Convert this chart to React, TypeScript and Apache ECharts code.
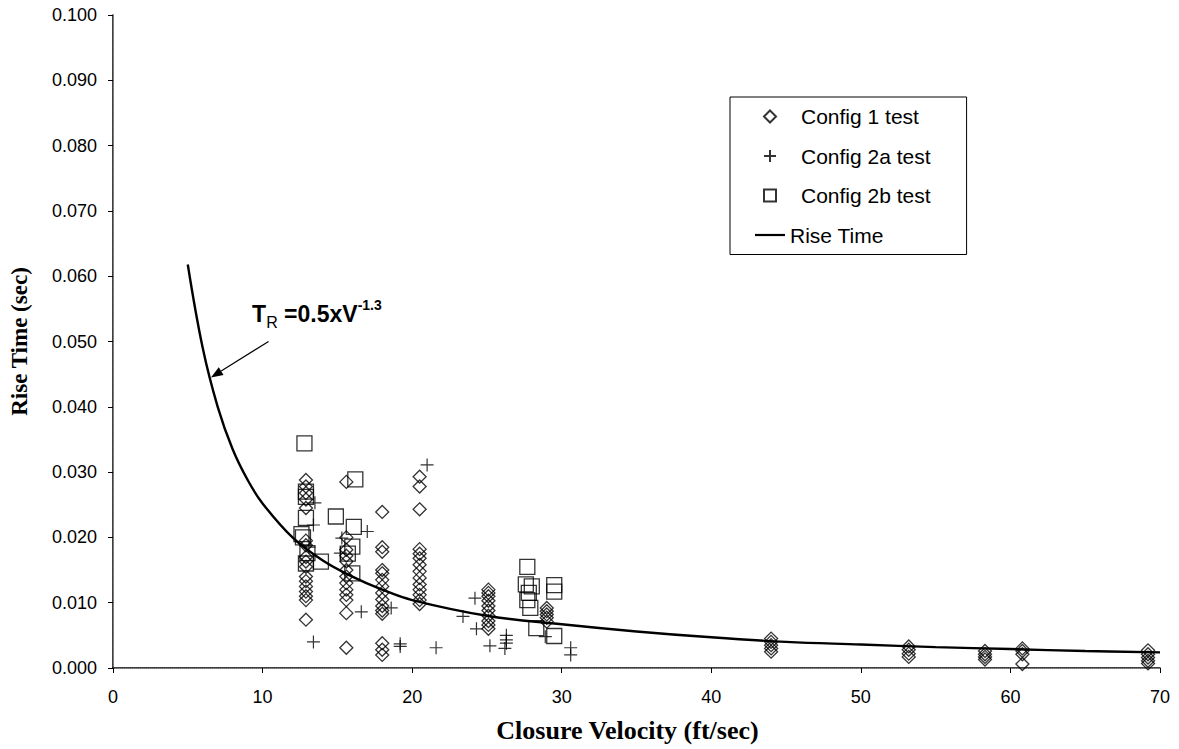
import React, { useEffect, useRef } from "react";
import * as echarts from "echarts";

const xTicks = [0, 10, 20, 30, 40, 50, 60, 70];

// Config 1 test (diamonds): [velocity, rise time]
const config1: number[][] = [
  [12.9, 0.0288], [12.9, 0.0278], [12.9, 0.0268], [12.9, 0.0258], [12.9, 0.0245],
  [12.9, 0.0195], [12.9, 0.0188], [12.9, 0.017], [12.9, 0.0163], [12.9, 0.0155],
  [12.9, 0.014], [12.9, 0.0133], [12.9, 0.0125], [12.9, 0.0117], [12.9, 0.011],
  [12.9, 0.0104], [12.9, 0.0074],
  [15.6, 0.0285], [15.6, 0.02], [15.6, 0.0181], [15.6, 0.0172], [15.6, 0.0163],
  [15.6, 0.015], [15.6, 0.014], [15.6, 0.013], [15.6, 0.012], [15.6, 0.0112],
  [15.6, 0.0104], [15.6, 0.0084], [15.6, 0.0031],
  [18.0, 0.0239], [18.0, 0.0185], [18.0, 0.0178], [18.0, 0.015], [18.0, 0.0145],
  [18.0, 0.0135], [18.0, 0.0125], [18.0, 0.0115], [18.0, 0.0105], [18.0, 0.0095],
  [18.0, 0.0088], [18.0, 0.0083], [18.0, 0.0038], [18.0, 0.0028], [18.0, 0.002],
  [20.5, 0.0293], [20.5, 0.0278], [20.5, 0.0243], [20.5, 0.0182], [20.5, 0.0175],
  [20.5, 0.0168], [20.5, 0.0158], [20.5, 0.0148], [20.5, 0.0138], [20.5, 0.0128],
  [20.5, 0.012], [20.5, 0.0112], [20.5, 0.0104], [20.5, 0.0098],
  [25.1, 0.012], [25.1, 0.0115], [25.1, 0.011], [25.1, 0.0103], [25.1, 0.0095],
  [25.1, 0.0088], [25.1, 0.008], [25.1, 0.0072], [25.1, 0.0066], [25.1, 0.006],
  [29.0, 0.0092], [29.0, 0.0087], [29.0, 0.0082], [29.0, 0.0077], [29.0, 0.0071],
  [44.0, 0.0045], [44.0, 0.004], [44.0, 0.0035], [44.0, 0.003], [44.0, 0.0025],
  [53.2, 0.0033], [53.2, 0.0028], [53.2, 0.0022], [53.2, 0.0017],
  [58.3, 0.0026], [58.3, 0.0021], [58.3, 0.0017], [58.3, 0.0013],
  [60.8, 0.003], [60.8, 0.0026], [60.8, 0.0021], [60.8, 0.0006],
  [69.2, 0.0027], [69.2, 0.0021], [69.2, 0.0016], [69.2, 0.0011], [69.2, 0.0007],
];

// Config 2a test (crosses)
const config2a: number[][] = [
  [13.5, 0.0253], [13.4, 0.0219], [13.1, 0.0185], [13.4, 0.004],
  [15.3, 0.0199], [15.2, 0.0176], [17.0, 0.0209], [16.6, 0.0086],
  [18.6, 0.0092], [19.2, 0.0037], [19.2, 0.0033], [21.0, 0.0311],
  [21.6, 0.0031], [24.2, 0.0107], [23.4, 0.0079], [24.3, 0.006],
  [25.2, 0.0034], [26.3, 0.005], [26.3, 0.0043], [26.3, 0.0038],
  [26.2, 0.003], [28.9, 0.0048], [30.6, 0.0031], [30.6, 0.002],
];

// Config 2b test (squares)
const config2b: number[][] = [
  [12.8, 0.0344], [12.9, 0.027], [12.9, 0.0262], [12.9, 0.023], [12.6, 0.0205],
  [12.7, 0.02], [13.0, 0.0176], [13.9, 0.0163], [12.9, 0.016],
  [16.2, 0.0289], [14.9, 0.0232], [16.1, 0.0216], [16.0, 0.0186], [15.7, 0.0175],
  [16.0, 0.0145],
  [27.7, 0.0155], [27.6, 0.0128], [28.0, 0.0125], [27.8, 0.0115], [27.7, 0.0104],
  [27.9, 0.0092], [28.3, 0.0061], [29.5, 0.0127], [29.5, 0.0117], [29.5, 0.0049],
];

// Rise Time curve
const riseTime: number[][] = [
  [5, 0.0618], [6, 0.049], [7, 0.04], [8, 0.0335], [9, 0.0288], [10, 0.0252],
  [12, 0.02], [14, 0.0165], [16, 0.014], [18, 0.012], [20, 0.0104], [25, 0.008],
  [30, 0.0067], [35, 0.0056], [40, 0.0047], [45, 0.004], [50, 0.0036],
  [55, 0.0032], [60, 0.0029], [65, 0.0026], [70, 0.0024],
];

const SANS = "'Liberation Sans', Arial, sans-serif";
const SERIF = "'Liberation Serif', 'Times New Roman', serif";

const DIAMOND = "path://M0,-10L10,0L0,10L-10,0Z";
const SQUARE = "path://M0,0L10,0L10,10L0,10Z";
const PLUS = "path://M5,0L5,10M0,5L10,5";
const LINE_ICON = "path://M0,0L30,0L30,2.2L0,2.2Z";

export default function App() {
  const ref = useRef<HTMLDivElement>(null);
  useEffect(() => {
    if (!ref.current) return;
    const chart = echarts.init(ref.current, null, { renderer: "svg" });
    const hollow = { color: "rgba(0,0,0,0)", borderColor: "#000", borderWidth: 1.3 };
    const markerText = { padding: [0, 0, 0, 11] };
    chart.setOption({
      animation: false,
      backgroundColor: "#fff",
      grid: { left: 108, right: 19, top: 15, bottom: 81, containLabel: false },
      legend: {
        orient: "vertical",
        left: 730,
        top: 97,
        padding: [9, 36, 9, 25],
        borderColor: "#000",
        borderWidth: 1,
        itemWidth: 30,
        itemHeight: 12,
        itemGap: 18.5,
        symbolKeepAspect: true,
        textStyle: { fontFamily: SANS, fontSize: 21, color: "#000" },
        data: [
          { name: "Config 1 test", textStyle: markerText },
          { name: "Config 2a test", textStyle: markerText },
          { name: "Config 2b test", textStyle: markerText },
          { name: "Rise Time", icon: LINE_ICON, itemStyle: { color: "#000" } },
        ],
      },
      xAxis: [
        {
          type: "value",
          min: 0,
          max: 70,
          interval: 10,
          name: "Closure Velocity (ft/sec)",
          nameLocation: "middle",
          nameGap: 49,
          nameTextStyle: {
            fontFamily: SERIF,
            fontWeight: "bold",
            fontSize: 26,
            color: "#000",
            padding: [0, 18, 0, 0],
          },
          axisLine: { lineStyle: { color: "#000", width: 1.5 } },
          axisTick: { length: 5, lineStyle: { color: "#000" } },
          axisLabel: {
            fontFamily: SANS,
            fontSize: 18,
            color: "#000",
            margin: 20,
            formatter: (v: number) => (xTicks.includes(v) ? String(v) : ""),
          },
          splitLine: { show: false },
        },
        {
          type: "value",
          position: "top",
          min: 0,
          max: 70,
          axisLine: { show: true, lineStyle: { color: "#888", type: "dotted", width: 1 } },
          axisTick: { show: false },
          axisLabel: { show: false },
          splitLine: { show: false },
        },
      ],
      yAxis: [
        {
          type: "value",
          min: 0,
          max: 0.1,
          interval: 0.01,
          name: "Rise Time (sec)",
          nameLocation: "middle",
          nameGap: 82,
          nameTextStyle: { fontFamily: SERIF, fontWeight: "bold", fontSize: 23, color: "#000" },
          axisLine: { show: true, lineStyle: { color: "#000", width: 1.5 } },
          axisTick: { show: true, length: 5, lineStyle: { color: "#000" } },
          axisLabel: {
            fontFamily: SANS,
            fontSize: 18,
            color: "#000",
            margin: 16,
            formatter: (v: number) => v.toFixed(3),
          },
          splitLine: { show: false },
        },
        {
          type: "value",
          position: "right",
          min: 0,
          max: 0.1,
          axisLine: { show: true, lineStyle: { color: "#888", type: "dotted", width: 1 } },
          axisTick: { show: false },
          axisLabel: { show: false },
          splitLine: { show: false },
        },
      ],
      series: [
        {
          name: "Config 1 test",
          type: "scatter",
          symbol: DIAMOND,
          symbolSize: [13, 13],
          itemStyle: hollow,
          data: config1,
          z: 2,
        },
        {
          name: "Config 2a test",
          type: "scatter",
          symbol: PLUS,
          symbolSize: 13,
          itemStyle: { color: "none", borderColor: "#000", borderWidth: 1.2 },
          data: config2a,
          z: 2,
        },
        {
          name: "Config 2b test",
          type: "scatter",
          symbol: SQUARE,
          symbolSize: 15,
          itemStyle: hollow,
          data: config2b,
          z: 2,
        },
        {
          name: "Rise Time",
          type: "line",
          smooth: 0.4,
          symbol: "none",
          lineStyle: { color: "#000", width: 2.4 },
          itemStyle: { color: "#000" },
          data: riseTime,
          z: 5,
        },
      ],
    });

    // annotation arrow anchored in data coordinates
    const tip = chart.convertToPixel({ gridIndex: 0 }, [6.55, 0.0445]) as number[];
    const tail = chart.convertToPixel({ gridIndex: 0 }, [10.4, 0.05]) as number[];
    const txt = chart.convertToPixel({ gridIndex: 0 }, [9.3, 0.0542]) as number[];
    const dx = tail[0] - tip[0];
    const dy = tail[1] - tip[1];
    const len = Math.sqrt(dx * dx + dy * dy);
    const ux = dx / len;
    const uy = dy / len;
    const hl = 12;
    const hw = 4.5;
    const bx = tip[0] + ux * hl;
    const by = tip[1] + uy * hl;
    chart.setOption({
      graphic: [
        {
          type: "line",
          shape: { x1: tail[0], y1: tail[1], x2: bx, y2: by },
          style: { stroke: "#000", lineWidth: 1.2 },
        },
        {
          type: "polygon",
          shape: {
            points: [
              [tip[0], tip[1]],
              [bx - uy * hw, by + ux * hw],
              [bx + uy * hw, by - ux * hw],
            ],
          },
          style: { fill: "#000" },
        },
        {
          type: "text",
          x: txt[0],
          y: txt[1],
          style: {
            text: "{t|T}{s|R}{t| =0.5xV}{p|-1.3}",
            verticalAlign: "middle",
            rich: {
              t: { fontFamily: SANS, fontWeight: "bold", fontSize: 23, fill: "#000", lineHeight: 32, verticalAlign: "middle" },
              s: { fontFamily: SANS, fontSize: 16, fill: "#000", lineHeight: 32, verticalAlign: "bottom" },
              p: { fontFamily: SANS, fontWeight: "bold", fontSize: 14, fill: "#000", lineHeight: 32, verticalAlign: "top" },
            },
          },
        },
      ],
    });
    return () => chart.dispose();
  }, []);
  return (
    <div
      ref={ref}
      style={{ position: "fixed", left: 0, top: 0, width: 1179, height: 749 }}
    />
  );
}
